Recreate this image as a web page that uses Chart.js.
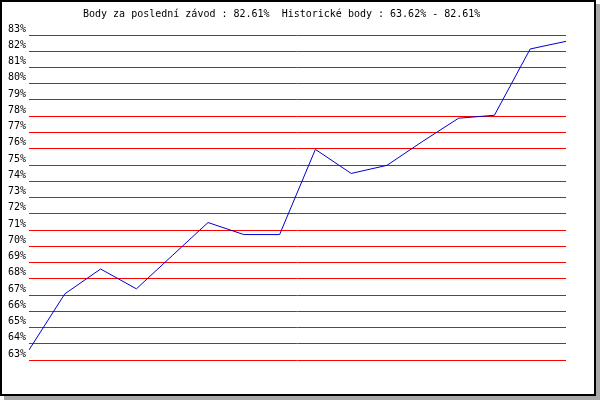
<!DOCTYPE html>
<html>
<head>
<meta charset="utf-8">
<script src="https://cdn.jsdelivr.net/npm/chart.js@4"></script>
<style>
  html, body { margin: 0; padding: 0; background: #fff; }
  #wrap { position: relative; width: 600px; height: 400px; }
  #frame {
    position: absolute; left: 0; top: 0; width: 596px; height: 396px;
    box-sizing: border-box; border: 2px solid #000; background: #fff;
    box-shadow: 4px 4px 0 #a8a8a8;
  }
  #chart { position: absolute; left: 0; top: 0; }
</style>
</head>
<body>
<div id="wrap">
  <div id="frame"></div>
  <canvas id="chart" width="600" height="400"></canvas>
</div>
<script>
// one point per race
const races = ["1", "2", "3", "4", "5", "6", "7", "8", "9", "10", "11", "12", "13", "14", "15", "16"];
const points = [63.62, 67.07, 68.6, 67.38, 69.42, 71.46, 70.72, 70.72, 75.96, 74.48, 74.98, 76.46, 77.88, 78.06, 82.14, 82.61];
const titleText = "Body za poslední závod : 82.61%  Historické body : 63.62% - 82.61%";
const yMin = 63;
const yMax = 83;

const mono = "'DejaVu Sans Mono', 'Liberation Mono', monospace";

// title drawn left-aligned like the original image
const titlePlugin = {
  id: "topTitle",
  afterDraw(chart) {
    const ctx = chart.ctx;
    ctx.save();
    ctx.font = "10px " + mono;
    ctx.fillStyle = "#000";
    ctx.textAlign = "left";
    ctx.textBaseline = "alphabetic";
    ctx.fillText(titleText, 83, 17);
    ctx.restore();
  }
};

new Chart(document.getElementById("chart"), {
  type: "line",
  data: {
    labels: races,
    datasets: [{
      data: points,
      borderColor: "#0000cc",
      borderWidth: 1,
      pointRadius: 0,
      tension: 0,
      fill: false
    }]
  },
  options: {
    responsive: false,
    animation: false,
    events: [],
    layout: { padding: { top: 35, bottom: 40, right: 34, left: 0 } },
    plugins: {
      legend: { display: false },
      tooltip: { enabled: false },
      title: { display: false }
    },
    scales: {
      x: {
        display: false,
        offset: false
      },
      y: {
        min: yMin,
        max: yMax,
        afterFit: s => { s.width = 29; },
        border: { display: false },
        grid: { color: "#ff0000", lineWidth: 1, drawTicks: false },
        ticks: {
          stepSize: 1,
          padding: 3,
          labelOffset: -6,
          color: "#000",
          font: { family: mono, size: 10 },
          callback: v => v + "%"
        }
      }
    }
  },
  plugins: [titlePlugin]
});
</script>
</body>
</html>
